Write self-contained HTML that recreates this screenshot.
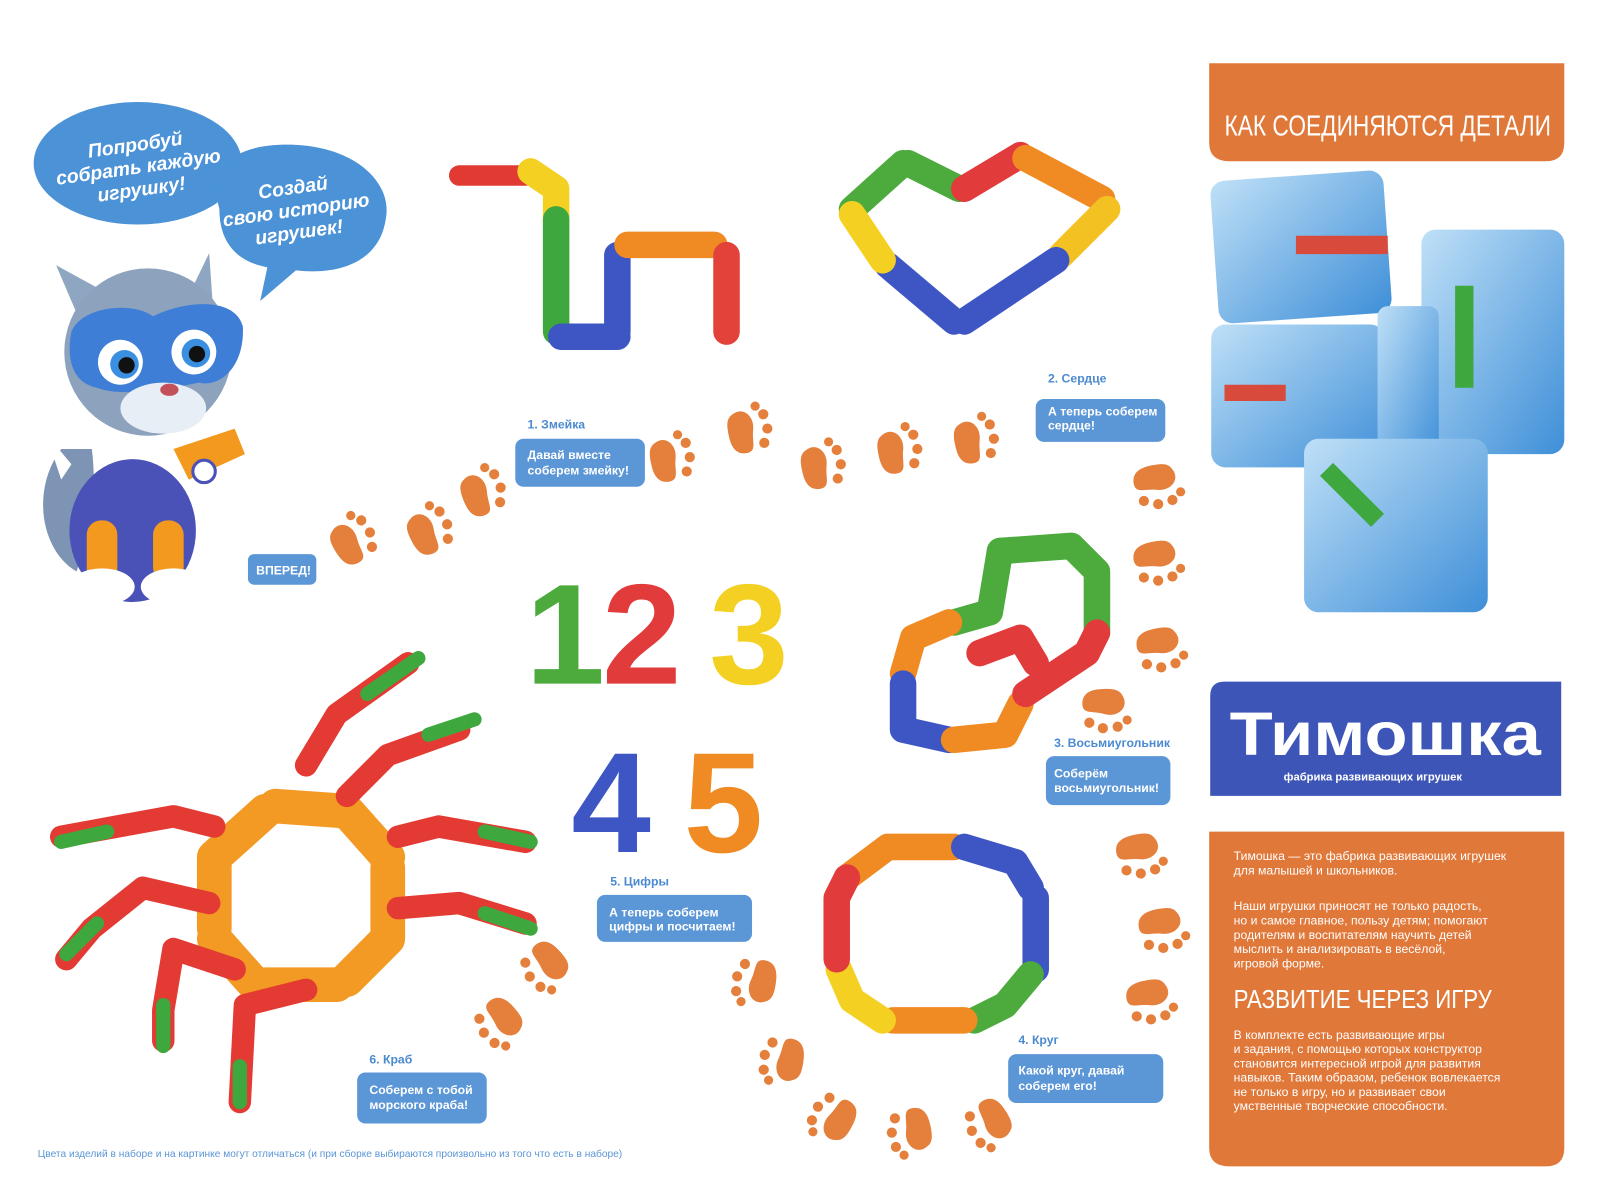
<!DOCTYPE html>
<html><head><meta charset="utf-8"><style>
html,body{margin:0;padding:0;background:#fff;}
svg{display:block;}
text{font-family:"Liberation Sans","DejaVu Sans",sans-serif;}
</style></head><body>
<svg width="1600" height="1200" viewBox="0 0 1568 1176" xmlns="http://www.w3.org/2000/svg">
<defs>
<g id="paw">
<path d="M-10,-14 C0,-22 12,-12 10,2 C9,14 14,22 4,24 C-8,26 -12,16 -14,6 C-16,-4 -16,-10 -10,-14Z" fill="#e47f3c"/>
<circle cx="20" cy="-14" r="5" fill="#e47f3c"/>
<circle cx="24" cy="0" r="5" fill="#e47f3c"/>
<circle cx="21" cy="14" r="5" fill="#e47f3c"/>
<circle cx="12" cy="-22" r="4.5" fill="#e47f3c"/>
</g>
<linearGradient id="ph" x1="0" y1="0" x2="1" y2="1"><stop offset="0" stop-color="#bfe0f7"/><stop offset="1" stop-color="#3f8fd8"/></linearGradient>
</defs>
<rect width="1568" height="1176" fill="#fff"/>

<!-- speech bubbles -->
<ellipse cx="135" cy="160" rx="102" ry="60" fill="#4b92d6"/>
<path d="M215,205 C200,150 250,140 290,142 C350,145 385,180 378,215 C372,255 335,270 290,265 L255,295 L262,262 C225,255 215,230 215,205Z" fill="#4b92d6"/>
<g fill="#fff" font-style="italic" font-weight="bold" font-size="19" text-anchor="middle">
<text x="135" y="148" transform="rotate(-8 135 160)">Попробуй</text>
<text x="135" y="170" transform="rotate(-8 135 160)">собрать каждую</text>
<text x="135" y="192" transform="rotate(-8 135 160)">игрушку!</text>
<text x="290" y="190" transform="rotate(-8 290 205)">Создай</text>
<text x="290" y="212" transform="rotate(-8 290 205)">свою историю</text>
<text x="290" y="234" transform="rotate(-8 290 205)">игрушек!</text>
</g>

<!-- cat -->
<path d="M60,440 C30,480 40,540 75,560 C90,520 95,480 90,440Z" fill="#7d94b4"/>
<path d="M45,425 L70,455 L60,470Z" fill="#fff"/>
<ellipse cx="130" cy="520" rx="62" ry="70" fill="#4a52b8"/>
<rect x="85" y="510" width="30" height="60" rx="14" fill="#f39a1e"/>
<rect x="150" y="510" width="30" height="60" rx="14" fill="#f39a1e"/>
<ellipse cx="100" cy="575" rx="32" ry="18" fill="#fff"/>
<ellipse cx="170" cy="575" rx="32" ry="18" fill="#fff"/>
<path d="M170,440 L230,420 L240,445 L185,470Z" fill="#f39a1e"/>
<ellipse cx="268" cy="412" rx="22" ry="30" fill="#fff"/>
<path d="M55,260 L85,330 L110,290Z" fill="#8fa6c2"/>
<path d="M205,248 L175,310 L210,320Z" fill="#8fa6c2"/>
<circle cx="145" cy="345" r="82" fill="#8da2bd"/>
<path d="M70,325 C80,300 130,295 150,310 C180,295 230,290 238,320 C240,360 215,380 195,375 C170,380 120,390 95,380 C70,375 65,350 70,325Z" fill="#3e7ed6"/>
<circle cx="118" cy="355" r="22" fill="#fff"/><circle cx="190" cy="345" r="22" fill="#fff"/>
<circle cx="122" cy="357" r="14" fill="#3a8fe0"/><circle cx="192" cy="346" r="14" fill="#3a8fe0"/>
<circle cx="124" cy="358" r="8" fill="#111"/><circle cx="193" cy="347" r="8" fill="#111"/>
<ellipse cx="160" cy="400" rx="42" ry="25" fill="#e8eef5"/>
<ellipse cx="166" cy="382" rx="9" ry="6" fill="#c2515a"/>
<circle cx="200" cy="462" r="11" fill="#fff" stroke="#4a52b8" stroke-width="3"/>

<!-- tags -->
<g fill="#5b96d6">
<rect x="243" y="543" width="67" height="30" rx="6"/>
<rect x="505" y="430" width="127" height="47" rx="8"/>
<rect x="1015" y="391" width="127" height="42" rx="8"/>
<rect x="1025" y="741" width="122" height="48" rx="8"/>
<rect x="585" y="877" width="152" height="46" rx="8"/>
<rect x="350" y="1051" width="127" height="50" rx="8"/>
<rect x="988" y="1033" width="152" height="48" rx="8"/>
</g>
<g fill="#fff" font-weight="bold" font-size="12">
<text x="251" y="563">ВПЕРЕД!</text>
<text x="517" y="450">Давай вместе</text><text x="517" y="465">соберем змейку!</text>
<text x="1027" y="407">А теперь соберем</text><text x="1027" y="421">сердце!</text>
<text x="1033" y="762">Соберём</text><text x="1033" y="776">восьмиугольник!</text>
<text x="597" y="898">А теперь соберем</text><text x="597" y="912">цифры и посчитаем!</text>
<text x="362" y="1072">Соберем с тобой</text><text x="362" y="1087">морского краба!</text>
<text x="998" y="1053">Какой круг, давай</text><text x="998" y="1068">соберем его!</text>
</g>
<g fill="#4b8ad0" font-weight="bold" font-size="12">
<text x="517" y="420">1. Змейка</text>
<text x="1027" y="375">2. Сердце</text>
<text x="1033" y="732">3. Восьмиугольник</text>
<text x="998" y="1023">4. Круг</text>
<text x="598" y="868">5. Цифры</text>
<text x="362" y="1042">6. Краб</text>
</g>
<text x="37" y="1134" fill="#5b96d6" font-size="10">Цвета изделий в наборе и на картинке могут отличаться (и при сборке выбираются произвольно из того что есть в наборе)</text>

<!-- paws -->
<g>
<use href="#paw" transform="translate(340,530) rotate(-20)"/>
<use href="#paw" transform="translate(415,520) rotate(-15)"/>
<use href="#paw" transform="translate(467,482) rotate(-10)"/>
<use href="#paw" transform="translate(652,448)"/>
<use href="#paw" transform="translate(728,420)"/>
<use href="#paw" transform="translate(800,455)"/>
<use href="#paw" transform="translate(875,440)"/>
<use href="#paw" transform="translate(950,430)"/>
<use href="#paw" transform="translate(1135,470) rotate(90)"/>
<use href="#paw" transform="translate(1135,545) rotate(90)"/>
<use href="#paw" transform="translate(1138,630) rotate(90)"/>
<use href="#paw" transform="translate(1085,690) rotate(100)"/>
<use href="#paw" transform="translate(1118,832) rotate(90)"/>
<use href="#paw" transform="translate(1140,905) rotate(90)"/>
<use href="#paw" transform="translate(1128,975) rotate(90)"/>
<use href="#paw" transform="translate(540,945) rotate(150)"/>
<use href="#paw" transform="translate(495,1000) rotate(150)"/>
<use href="#paw" transform="translate(745,965) rotate(200)"/>
<use href="#paw" transform="translate(772,1042) rotate(200)"/>
<use href="#paw" transform="translate(820,1100) rotate(220)"/>
<use href="#paw" transform="translate(898,1110) rotate(180)"/>
<use href="#paw" transform="translate(975,1100) rotate(160)"/>
</g>

<!-- toys -->
<g fill="none" stroke-width="26" stroke-linecap="round" stroke-linejoin="round">
<!-- snake -->
<path d="M450,172 L515,172" stroke="#e03a32" stroke-width="20"/>
<path d="M520,168 L545,185 L545,215" stroke="#f4d023"/>
<path d="M545,215 L545,325" stroke="#3ea83f"/>
<path d="M550,330 L605,330" stroke="#3d56c4"/>
<path d="M605,325 L605,250" stroke="#3d56c4"/>
<path d="M615,240 L700,240" stroke="#f08a22"/>
<path d="M712,250 L712,325" stroke="#e2423a"/>
<!-- heart -->
<path d="M835,205 L885,160" stroke="#4cab3c"/>
<path d="M890,160 L940,185" stroke="#4cab3c"/>
<path d="M945,185 L1000,152" stroke="#e23b3c"/>
<path d="M1005,155 L1080,195" stroke="#f08a22"/>
<path d="M1085,205 L1040,250" stroke="#f4c123"/>
<path d="M1035,255 L945,315" stroke="#3d56c4"/>
<path d="M935,315 L870,260" stroke="#3d56c4"/>
<path d="M865,255 L835,210" stroke="#f4d023"/>
<!-- figure eight octagon -->
<path d="M980,540 L1050,535 L1075,560 L1075,620" stroke="#4cab3c"/>
<path d="M980,540 L970,600 L935,610" stroke="#4cab3c"/>
<path d="M930,610 L895,625 L885,660" stroke="#f08a22"/>
<path d="M885,670 L885,715 L930,725" stroke="#3d56c4"/>
<path d="M935,725 L985,720 L1000,690" stroke="#f08a22"/>
<path d="M1005,680 L1065,640 L1075,620" stroke="#e23b3c"/>
<path d="M960,640 L1000,625 L1015,650" stroke="#e23b3c"/>
<!-- circle -->
<path d="M830,860 L870,830 L935,830" stroke="#f08a22"/>
<path d="M945,830 L995,845 L1010,870" stroke="#3d56c4"/>
<path d="M1015,880 L1015,950" stroke="#3d56c4"/>
<path d="M1010,955 L985,985 L955,1000" stroke="#4cab3c"/>
<path d="M945,1000 L875,1000" stroke="#f08a22"/>
<path d="M865,1000 L835,980 L822,950" stroke="#f4d023"/>
<path d="M820,940 L820,880 L830,860" stroke="#e23b3c"/>
<!-- crab -->
<path d="M270,790 L340,795 L380,840" stroke="#f39a24" stroke-width="34"/>
<path d="M380,850 L380,920 L340,960" stroke="#f39a24" stroke-width="34"/>
<path d="M330,965 L250,965 L210,920" stroke="#f39a24" stroke-width="34"/>
<path d="M210,910 L210,840 L260,795" stroke="#f39a24" stroke-width="34"/>
<path d="M300,750 L330,700 L400,650" stroke="#e33a34" stroke-width="22"/>
<path d="M340,780 L380,740 L450,715" stroke="#e33a34" stroke-width="22"/>
<path d="M390,820 L430,810 L515,825" stroke="#e33a34" stroke-width="22"/>
<path d="M390,890 L450,885 L515,905" stroke="#e33a34" stroke-width="22"/>
<path d="M210,810 L170,800 L60,820" stroke="#e33a34" stroke-width="22"/>
<path d="M205,885 L140,870 L90,910 L65,940" stroke="#e33a34" stroke-width="22"/>
<path d="M230,950 L170,930 L160,990 L160,1020" stroke="#e33a34" stroke-width="22"/>
<path d="M300,970 L240,985 L235,1080" stroke="#e33a34" stroke-width="22"/>
</g>
<g stroke-width="14" stroke-linecap="round" fill="none" stroke="#3ea83f">
<path d="M360,680 L410,645"/><path d="M420,720 L465,705"/><path d="M475,815 L520,825"/><path d="M475,895 L520,910"/>
<path d="M60,825 L105,815"/><path d="M65,935 L95,905"/><path d="M160,985 L160,1025"/><path d="M235,1045 L235,1080"/>
</g>
<!-- numbers -->
<g font-weight="bold" font-size="140" font-family="Liberation Sans, sans-serif">
<text x="515" y="670" fill="#4cab3c">1</text>
<text x="590" y="670" fill="#e23b3c">2</text>
<text x="695" y="670" fill="#f4d023">3</text>
<text x="560" y="835" fill="#3d56c4">4</text>
<text x="670" y="835" fill="#f08a22">5</text>
</g>

<!-- right panel -->
<path d="M1185,62 L1533,62 L1533,140 Q1533,158 1515,158 L1205,158 Q1185,158 1185,140Z" fill="#e0783a"/>
<text x="1200" y="133" fill="#fff" font-size="28" textLength="320" lengthAdjust="spacingAndGlyphs">КАК СОЕДИНЯЮТСЯ ДЕТАЛИ</text>
<rect x="1190" y="172" width="170" height="140" rx="14" fill="url(#ph)" transform="rotate(-4 1275 242)"/>
<rect x="1393" y="225" width="140" height="220" rx="14" fill="url(#ph)"/>
<rect x="1187" y="318" width="170" height="140" rx="14" fill="url(#ph)"/>
<rect x="1350" y="300" width="60" height="150" rx="10" fill="url(#ph)"/>
<rect x="1278" y="430" width="180" height="170" rx="14" fill="url(#ph)"/>
<path d="M1270,240 L1360,240" stroke="#d84a3c" stroke-width="18"/>
<path d="M1435,280 L1435,380" stroke="#3ea83f" stroke-width="18"/>
<path d="M1200,385 L1260,385" stroke="#d84a3c" stroke-width="16"/>
<path d="M1300,460 L1350,510" stroke="#3ea83f" stroke-width="18"/>

<path d="M1200,668 L1530,668 L1530,780 L1186,780 L1186,682 Q1186,668 1200,668Z" fill="#3e55b8"/>
<text x="1205" y="740" fill="#fff" font-size="60" font-weight="bold" textLength="305" lengthAdjust="spacingAndGlyphs">Тимошка</text>
<text x="1258" y="765" fill="#fff" font-size="11" font-weight="bold">фабрика развивающих игрушек</text>

<path d="M1185,815 L1533,815 L1533,1125 Q1533,1143 1515,1143 L1205,1143 Q1185,1143 1185,1125Z" fill="#e0783a"/>
<g fill="#fff" font-size="12">
<text x="1209" y="843">Тимошка — это фабрика развивающих игрушек</text>
<text x="1209" y="857">для малышей и школьников.</text>
<text x="1209" y="892">Наши игрушки приносят не только радость,</text>
<text x="1209" y="906">но и самое главное, пользу детям; помогают</text>
<text x="1209" y="920">родителям и воспитателям научить детей</text>
<text x="1209" y="934">мыслить и анализировать в весёлой,</text>
<text x="1209" y="948">игровой форме.</text>
<text x="1209" y="988" font-size="25" textLength="253" lengthAdjust="spacingAndGlyphs">РАЗВИТИЕ ЧЕРЕЗ ИГРУ</text>
<text x="1209" y="1018">В комплекте есть развивающие игры</text>
<text x="1209" y="1032">и задания, с помощью которых конструктор</text>
<text x="1209" y="1046">становится интересной игрой для развития</text>
<text x="1209" y="1060">навыков. Таким образом, ребенок вовлекается</text>
<text x="1209" y="1074">не только в игру, но и развивает свои</text>
<text x="1209" y="1088">умственные творческие способности.</text>
</g>
</svg>
</body></html>
